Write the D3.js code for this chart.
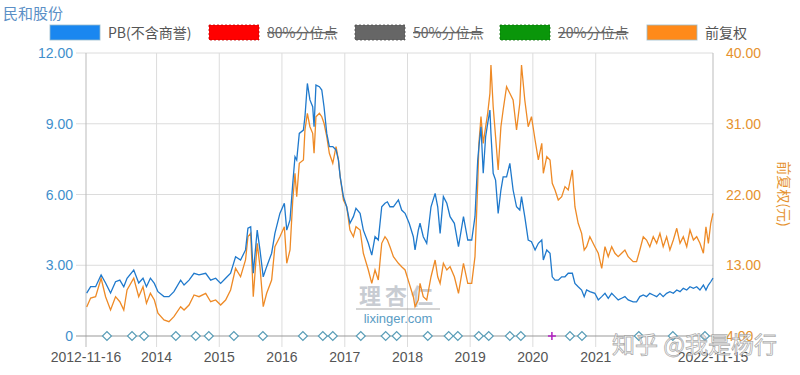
<!DOCTYPE html>
<html>
<head>
<meta charset="utf-8">
<script src="https://cdn.jsdelivr.net/npm/d3@7"></script>
<style>
  body { margin: 0; background: #fff; }
  svg { font-family: "Noto Sans CJK SC", "Noto Sans", sans-serif; }
</style>
</head>
<body>
<script>
// chart values
var dates = ["2012-11-20","2012-12-13","2013-01-11","2013-02-12","2013-03-10","2013-04-08","2013-05-07","2013-06-01","2013-06-24","2013-07-13","2013-08-21","2013-09-19","2013-10-14","2013-11-03","2013-11-26","2013-12-19","2014-01-09","2014-02-13","2014-03-14","2014-04-12","2014-05-21","2014-06-10","2014-07-09","2014-08-07","2014-09-05","2014-10-14","2014-11-12","2014-12-11","2015-01-09","2015-02-07","2015-03-08","2015-04-06","2015-05-05","2015-06-03","2015-06-17","2015-07-03","2015-07-18","2015-08-10","2015-08-26","2015-09-14","2015-10-04","2015-11-02","2015-11-21","2015-12-20","2016-01-15","2016-01-29","2016-02-17","2016-03-04","2016-03-17","2016-03-27","2016-04-11","2016-05-05","2016-05-14","2016-05-28","2016-06-12","2016-06-28","2016-07-06","2016-07-17","2016-08-06","2016-08-20","2016-09-02","2016-09-18","2016-10-03","2016-10-23","2016-11-11","2016-11-25","2016-12-05","2016-12-24","2017-01-12","2017-01-31","2017-02-20","2017-03-07","2017-03-31","2017-04-19","2017-05-18","2017-06-07","2017-06-26","2017-07-15","2017-08-04","2017-08-23","2017-09-06","2017-09-21","2017-10-11","2017-11-09","2017-11-28","2017-12-18","2018-01-11","2018-02-04","2018-02-14","2018-03-05","2018-03-15","2018-04-03","2018-04-23","2018-05-18","2018-06-11","2018-06-26","2018-07-10","2018-07-29","2018-08-18","2018-09-06","2018-10-01","2018-10-25","2018-11-23","2018-12-18","2019-01-10","2019-01-29","2019-02-14","2019-02-21","2019-03-05","2019-03-18","2019-04-01","2019-04-13","2019-04-26","2019-05-02","2019-05-15","2019-05-29","2019-06-13","2019-06-29","2019-07-12","2019-08-01","2019-08-20","2019-09-08","2019-09-28","2019-10-17","2019-10-27","2019-11-15","2019-12-05","2019-12-24","2020-01-14","2020-02-02","2020-02-22","2020-03-02","2020-03-22","2020-04-10","2020-04-23","2020-05-09","2020-05-28","2020-06-17","2020-07-06","2020-07-25","2020-08-18","2020-09-02","2020-09-21","2020-10-11","2020-10-26","2020-11-09","2020-11-28","2020-12-27","2021-01-16","2021-02-05","2021-02-24","2021-03-15","2021-04-04","2021-04-23","2021-05-12","2021-06-01","2021-06-20","2021-07-09","2021-08-07","2021-08-27","2021-09-15","2021-10-05","2021-10-24","2021-11-12","2021-12-02","2021-12-22","2022-01-10","2022-01-29","2022-02-18","2022-03-09","2022-03-29","2022-04-18","2022-05-07","2022-05-26","2022-06-15","2022-07-04","2022-07-24","2022-08-12","2022-08-31","2022-09-20","2022-10-05","2022-10-19","2022-11-02","2022-11-15"];
var pb = [1.82,2.09,2.09,2.59,2.25,1.82,2.30,2.37,2.09,2.45,2.80,2.25,2.45,2.09,2.45,2.23,1.88,1.67,1.67,1.88,2.37,2.16,2.37,2.66,2.59,2.66,2.37,2.45,2.23,2.45,2.66,3.36,3.22,3.65,4.57,4.63,2.66,4.49,3.65,2.51,2.94,3.51,4.35,5.20,5.63,4.49,4.92,6.47,7.60,7.46,8.59,8.73,9.30,10.71,10.01,9.72,8.87,10.64,10.57,10.43,9.72,8.59,8.03,8.03,7.89,7.46,6.75,5.91,5.48,4.78,5.06,5.41,5.20,4.49,3.93,3.43,4.21,4.07,5.48,5.63,5.69,5.48,5.48,5.77,5.34,5.20,4.78,4.21,3.65,4.49,4.78,4.21,3.93,5.48,6.05,5.48,4.35,5.91,5.63,5.06,4.78,3.79,5.06,4.07,4.07,5.06,7.46,8.03,8.87,6.90,8.45,9.02,9.58,8.59,6.90,6.61,5.20,6.19,6.75,6.75,7.32,6.19,5.48,5.34,5.91,5.06,4.07,4.00,3.65,3.93,4.07,3.22,3.65,3.51,2.51,2.37,2.37,2.51,2.51,2.66,2.66,2.23,2.09,1.95,1.67,1.95,1.88,1.81,1.53,1.67,1.81,1.60,1.81,1.67,1.53,1.60,1.67,1.53,1.45,1.45,1.67,1.74,1.67,1.81,1.74,1.67,1.81,1.67,1.81,1.88,1.81,1.95,1.88,2.02,1.95,2.09,2.02,2.09,1.95,2.16,1.95,2.16,2.30,2.45];
var price = [7.69,8.83,9.00,11.34,9.00,7.31,9.00,8.36,7.31,9.85,11.34,9.00,10.27,8.16,9.43,8.58,6.89,6.04,5.82,6.46,7.73,7.31,7.94,9.22,9.00,9.43,8.36,8.58,7.94,8.58,9.85,12.61,11.54,13.67,16.63,17.06,9.00,15.79,12.82,7.73,9.43,11.12,15.36,16.63,17.90,13.25,14.94,21.30,24.70,21.72,25.97,26.39,30.21,32.33,30.62,29.78,27.24,31.90,32.33,31.90,31.06,29.35,27.24,25.97,28.08,26.39,24.27,21.30,20.45,17.48,16.63,17.90,17.48,14.52,12.40,10.70,12.40,11.12,15.79,16.63,16.21,15.36,14.09,13.25,12.82,12.40,10.70,9.00,7.73,8.58,10.70,9.00,8.58,11.54,13.67,11.54,10.70,13.25,12.40,12.82,11.54,9.43,13.25,10.70,10.70,14.09,23.42,28.51,31.90,28.51,30.62,32.33,34.87,38.47,33.17,29.35,25.12,30.62,32.75,35.71,34.87,34.02,30.21,33.60,38.47,34.02,30.62,31.90,28.93,26.39,28.51,24.70,26.81,26.39,23.42,22.57,21.30,21.72,23.00,22.57,25.12,20.45,18.34,17.06,14.94,15.36,16.63,15.36,14.52,12.61,15.36,14.09,15.36,14.52,14.09,14.52,14.94,14.09,13.45,13.45,14.94,16.63,16.21,15.36,16.63,15.79,17.06,15.36,16.63,14.94,16.21,17.70,15.79,16.63,15.36,17.48,16.21,16.63,15.79,14.52,17.90,15.79,18.34,19.61];
var markDates = ["2013-03-18","2013-08-11","2013-10-20","2014-04-23","2014-08-17","2014-11-01","2015-03-27","2015-09-12","2016-05-02","2016-08-26","2016-10-23","2017-04-04","2017-08-27","2017-10-30","2018-04-29","2018-08-29","2018-10-21","2019-02-20","2019-04-19","2019-08-20","2019-10-23","2020-08-04","2020-10-13","2021-09-09","2022-03-26","2022-09-29"];
var plusDates = ["2020-04-21"];
var leftTicks = [0, 3, 6, 9, 12];
var rightTicks = [4, 13, 22, 31, 40];
var xTickDates = ["2012-11-16","2014-01-01","2015-01-01","2016-01-01","2017-01-01","2018-01-01","2019-01-01","2020-01-01","2021-01-01","2022-11-15"];
var legendNames = ["PB(不含商誉)", "80%分位点", "50%分位点", "20%分位点", "前复权"];
var legendColors = ["#1a87f0", "#ff0000", "#666666", "#0a960a", "#ff8a1a"];
var legendOff = [false, true, true, true, false];

function draw() {
    var w = 800, h = 375;
    var svg = d3.select("body").append("svg").attr("width", w).attr("height", h);
    var parse = d3.timeParse("%Y-%m-%d");

    var x = d3.scaleTime()
        .domain([parse("2012-11-16"), parse("2022-11-15")])
        .range([86, 713]);
    var yL = d3.scaleLinear().domain([0, 12]).range([336, 53]);
    var yR = d3.scaleLinear().domain([4, 40]).range([336, 53]);

    // gridlines
    svg.append("g").selectAll("line").data(leftTicks.slice(1)).enter().append("line")
        .attr("x1", 76).attr("x2", 713)
        .attr("y1", function(d) { return yL(d); }).attr("y2", function(d) { return yL(d); })
        .attr("stroke", "#dcdcdc");
    svg.append("g").selectAll("line").data(xTickDates).enter().append("line")
        .attr("x1", function(d) { return x(parse(d)); }).attr("x2", function(d) { return x(parse(d)); })
        .attr("y1", 53).attr("y2", 347)
        .attr("stroke", function(d, i) { return i == 0 || i == xTickDates.length - 1 ? "#bbb" : "#dcdcdc"; });
    svg.append("line").attr("x1", 76).attr("x2", 713).attr("y1", 336).attr("y2", 336).attr("stroke", "#999");

    // left axis labels
    svg.append("g").selectAll("text").data(leftTicks).enter().append("text")
        .attr("x", 73).attr("y", function(d) { return yL(d) + 5; })
        .attr("text-anchor", "end").attr("fill", "#3f8fcc").style("font-size", "14px")
        .style("font-family", "'Liberation Sans', sans-serif")
        .text(function(d) { return d == 0 ? "0" : d3.format(".2f")(d); });
    // right axis labels
    svg.append("g").selectAll("text").data(rightTicks).enter().append("text")
        .attr("x", 726).attr("y", function(d) { return yR(d) + 5; })
        .attr("fill", "#e5922f").style("font-size", "14px")
        .style("font-family", "'Liberation Sans', sans-serif")
        .text(function(d) { return d3.format(".2f")(d); });
    svg.append("text")
        .attr("transform", "translate(779,194) rotate(90)")
        .attr("text-anchor", "middle").attr("fill", "#e5922f").style("font-size", "14px")
        .text("前复权(元)");

    // x labels
    svg.append("g").selectAll("text").data(xTickDates).enter().append("text")
        .attr("x", function(d) { return x(parse(d)); }).attr("y", 362)
        .attr("text-anchor", "middle").attr("fill", "#555").style("font-size", "14px")
        .style("font-family", "'Liberation Sans', sans-serif")
        .text(function(d, i) { return (i == 0 || i == xTickDates.length - 1) ? d : d.slice(0, 4); });

    // watermark
    svg.append("text").attr("x", 398).attr("y", 304).attr("text-anchor", "middle")
        .attr("fill", "#c8ccd2").style("font-size", "22px").style("font-weight", "bold")
        .style("letter-spacing", "4px").text("理杏仁");
    svg.append("line").attr("x1", 356).attr("x2", 440).attr("y1", 309).attr("y2", 309).attr("stroke", "#aaa");
    svg.append("text").attr("x", 398).attr("y", 323).attr("text-anchor", "middle")
        .attr("fill", "#5a9cc4").style("font-size", "13px")
        .style("font-family", "'Liberation Sans', sans-serif").text("lixinger.com");

    // series lines
    var linePB = d3.line()
        .x(function(d, i) { return x(parse(dates[i])); })
        .y(function(d) { return yL(d); });
    var linePrice = d3.line()
        .x(function(d, i) { return x(parse(dates[i])); })
        .y(function(d) { return yR(d); });
    svg.append("path").datum(price).attr("d", linePrice)
        .attr("fill", "none").attr("stroke", "#ee8a26").attr("stroke-width", 1.3);
    svg.append("path").datum(pb).attr("d", linePB)
        .attr("fill", "none").attr("stroke", "#1f79cc").attr("stroke-width", 1.3);

    // marks on zero line
    var diamond = d3.symbol().type(d3.symbolSquare).size(40);
    svg.append("g").selectAll("path").data(markDates).enter().append("path")
        .attr("d", diamond)
        .attr("transform", function(d) { return "translate(" + x(parse(d)) + ",336) rotate(45)"; })
        .attr("fill", "#fff").attr("stroke", "#5a9eb8").attr("stroke-width", 1.2);
    svg.append("g").selectAll("g").data(plusDates).enter().append("g")
        .attr("transform", function(d) { return "translate(" + x(parse(d)) + ",336)"; })
        .each(function() {
            d3.select(this).append("line").attr("x1", -4).attr("x2", 4).attr("stroke", "#b020c0").attr("stroke-width", 1.5);
            d3.select(this).append("line").attr("y1", -4).attr("y2", 4).attr("stroke", "#b020c0").attr("stroke-width", 1.5);
        });

    // title
    svg.append("text").attr("x", 3).attr("y", 19).attr("fill", "#5b8fc6")
        .style("font-size", "15px").text("民和股份");

    // legend
    var lx = [50, 209, 355, 500, 647];
    var lg = svg.append("g").selectAll("g").data(legendNames).enter().append("g")
        .attr("transform", function(d, i) { return "translate(" + lx[i] + ",25)"; });
    lg.append("rect").attr("width", 50).attr("height", 15)
        .attr("fill", function(d, i) { return legendColors[i]; })
        .attr("stroke", function(d, i) { return legendOff[i] ? d3.color(legendColors[i]).darker(0.8) : "#9bc"; })
        .attr("stroke-dasharray", function(d, i) { return legendOff[i] ? "2,2" : null; })
        .attr("stroke-opacity", 0.8);
    var lt = lg.append("text").attr("x", 58).attr("y", 13)
        .attr("fill", "#555").style("font-size", "14px")
        .text(function(d) { return d; });
    lt.filter(function(d, i) { return legendOff[i]; })
        .style("text-decoration", "line-through").attr("fill", "#666");

    // zhihu watermark (sits over the axis corner, as in the reference)
    svg.append("text").attr("x", 612).attr("y", 353)
        .attr("fill", "#fff").attr("fill-opacity", 0.85)
        .attr("stroke", "#888").attr("stroke-width", 0.8).attr("stroke-opacity", 0.7)
        .style("font-size", "23px").text("知乎 @我是杨行");
}

window.onload = draw;
</script>
</body>
</html>
